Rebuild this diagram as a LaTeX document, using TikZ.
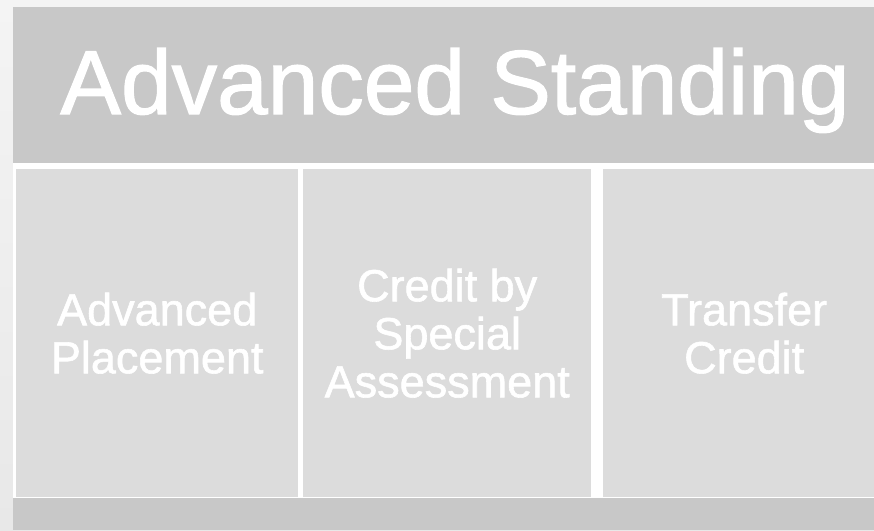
\documentclass[tikz,border=0pt]{standalone}
\usepackage{fontspec}
\setmainfont{Liberation Sans}
\newfontfamily\heavyfont{Liberation Sans}[FakeBold=1.3]
\definecolor{bandgray}{HTML}{C8C8C8}
\definecolor{cellgray}{HTML}{DCDCDC}
\definecolor{bgtop}{HTML}{F4F4F4}
\definecolor{bgbottom}{HTML}{E8E8E8}
\begin{document}
\begin{tikzpicture}[x=1pt,y=-1pt,
  band/.style={fill=bandgray,draw=none,inner sep=0pt,anchor=north west},
  cell/.style={fill=cellgray,draw=none,text=white,align=center,
    font=\heavyfont\fontsize{45}{48}\selectfont,inner sep=0pt,anchor=north west,
    minimum height=328pt},
  titletext/.style={text=white,font=\heavyfont\fontsize{91}{91}\selectfont,inner sep=0pt,anchor=base}]
\useasboundingbox (0,0) rectangle (874,530);
\shade[top color=bgtop,bottom color=bgbottom] (0,0) rectangle (874,530);
\fill[white] (13,7) rectangle (874,530);
\node[band,minimum width=861pt,minimum height=156pt] (top) at (13,7) {};
\node[titletext] (title) at (455,114) {Advanced Standing};
\node[cell,minimum width=282pt] (c1) at (16,169) {Advanced\\Placement};
\node[cell,minimum width=288pt] (c2) at (303,169) {Credit by\\Special\\Assessment};
\node[cell,minimum width=282pt] (c3) at (603,169) {Transfer\\Credit};
\node[band,minimum width=861pt,minimum height=32pt] (bottom) at (13,498) {};
\end{tikzpicture}
\end{document}
